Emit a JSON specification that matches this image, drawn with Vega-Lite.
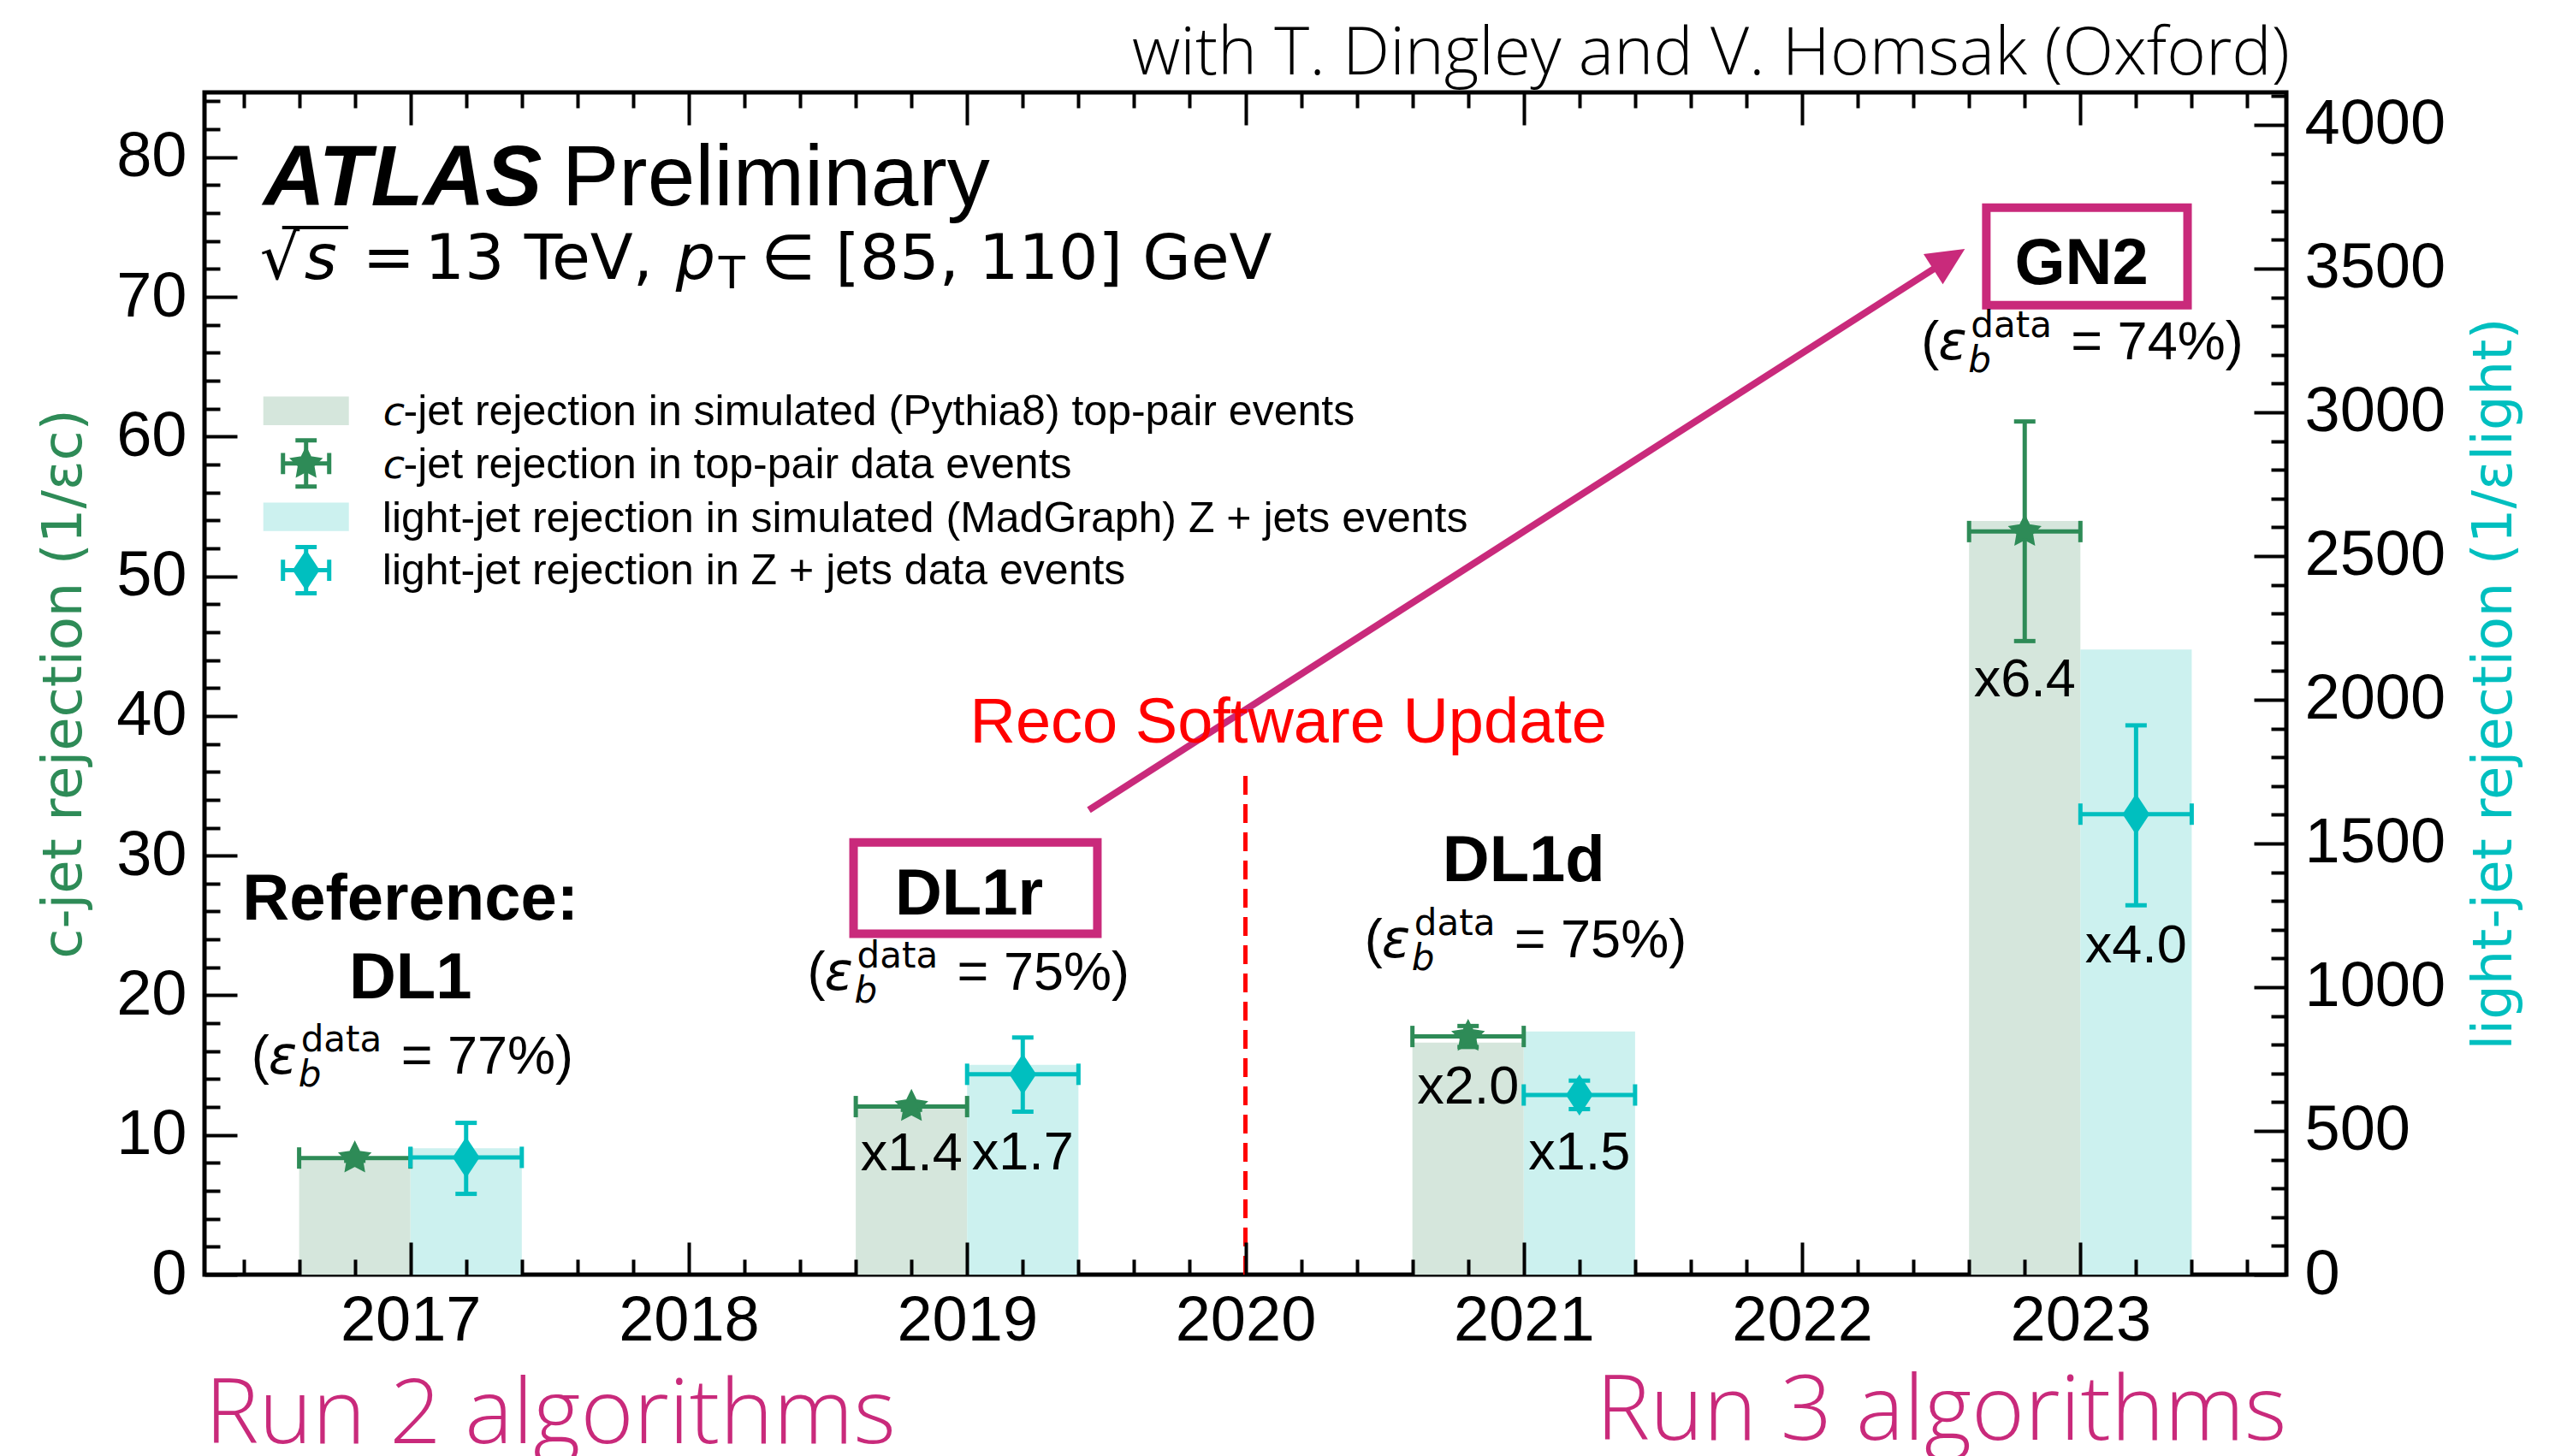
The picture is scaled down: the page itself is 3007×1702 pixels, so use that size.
{
 "$schema": "https://vega.github.io/schema/vega-lite/v6.json",
 "width": 2433,
 "height": 1382,
 "autosize": {"type": "none"},
 "padding": {"left": 239, "top": 108, "right": 335, "bottom": 212},
 "background": "white",
 "title": {"text": "with T. Dingley and V. Homsak (Oxford)", "anchor": "end", "frame": "group", "font": "Open Sans", "fontWeight": 300, "fontSize": 78, "color": "#000000", "baseline": "alphabetic", "offset": -59, "dx": 4},
 "config": {
  "view": {"stroke": "#000000", "strokeWidth": 5},
  "axis": {"labelFlush": false, "labelOverlap": false, "labelBound": false, "grid": false}
 },
 "datasets": {
  "c": [
   {"alg": "DL1", "x0": 2016.6, "xc": 2016.8, "x1": 2017.0, "sim": 8.19, "data": 8.35, "lo": 8.15, "hi": 8.55},
   {"alg": "DL1r", "x0": 2018.6, "xc": 2018.8, "x1": 2019.0, "sim": 12.2, "data": 12.03, "lo": 11.8, "hi": 12.3},
   {"alg": "DL1d", "x0": 2020.6, "xc": 2020.8, "x1": 2021.0, "sim": 16.62, "data": 17.05, "lo": 16.3, "hi": 17.8},
   {"alg": "GN2", "x0": 2022.6, "xc": 2022.8, "x1": 2023.0, "sim": 53.95, "data": 53.2, "lo": 45.36, "hi": 61.08}
  ],
  "light": [
   {"alg": "DL1", "x0": 2017.0, "xc": 2017.2, "x1": 2017.4, "sim": 440, "data": 408, "lo": 281, "hi": 528},
   {"alg": "DL1r", "x0": 2019.0, "xc": 2019.2, "x1": 2019.4, "sim": 730, "data": 697, "lo": 567, "hi": 825},
   {"alg": "DL1d", "x0": 2021.0, "xc": 2021.2, "x1": 2021.4, "sim": 846, "data": 625, "lo": 576, "hi": 675},
   {"alg": "GN2", "x0": 2023.0, "xc": 2023.2, "x1": 2023.4, "sim": 2175, "data": 1602, "lo": 1285, "hi": 1911}
  ],
  "update": [{"x": 2020, "y0": 0, "y1": 35.8}],
  "bold": [
   {"x": 2017.0, "y": 25.43, "t": "Reference:"},
   {"x": 2017.0, "y": 19.8, "t": "DL1"},
   {"x": 2019.007, "y": 25.79, "t": "DL1r"},
   {"x": 2021.0, "y": 28.19, "t": "DL1d"},
   {"x": 2023.004, "y": 70.92, "t": "GN2"}
  ],
  "ratio": [
   {"x": 2018.8, "y": 7.49, "t": "x1.4"},
   {"x": 2019.2, "y": 7.56, "t": "x1.7"},
   {"x": 2020.8, "y": 12.27, "t": "x2.0"},
   {"x": 2021.2, "y": 7.56, "t": "x1.5"},
   {"x": 2022.8, "y": 41.41, "t": "x6.4"},
   {"x": 2023.2, "y": 22.34, "t": "x4.0"}
  ],
  "eff": [
   {"x": 2017.0, "y": 14.42, "t": "= 77%)"},
   {"x": 2018.998, "y": 20.42, "t": "= 75%)"},
   {"x": 2021.0, "y": 22.75, "t": "= 75%)"},
   {"x": 2023.0, "y": 65.54, "t": "= 74%)"}
  ],
  "boxes": [
   {"x0": 2018.592, "x1": 2019.468, "y0": 24.4, "y1": 30.95},
   {"x0": 2022.662, "x1": 2023.385, "y0": 69.4, "y1": 76.39}
  ],
  "arrow": [{"x0": 2019.4375, "y0": 33.27, "x1": 2022.528, "y1": 72.71}],
  "reco": [{"x": 2019.01, "y": 38.11, "t": "Reco Software Update"}],
  "atlas": [{"x": 2016.471, "y": 76.57, "t": "ATLAS"}],
  "prelim": [{"x": 2017.544, "y": 76.57, "t": "Preliminary"}],
  "energyUp": [
   {"x": 2016.459, "y": 71.29, "t": "√"},
   {"x": 2016.828, "y": 71.29, "t": "="},
   {"x": 2017.052, "y": 71.29, "t": "13 TeV,"},
   {"x": 2018.26, "y": 71.29, "t": "∈ [85, 110] GeV"}
  ],
  "energyIt": [
   {"x": 2016.619, "y": 71.29, "t": "s"},
   {"x": 2017.953, "y": 71.29, "t": "p"}
  ],
  "energySub": [{"x": 2018.107, "y": 70.6, "t": "T"}],
  "overline": [{"x0": 2016.539, "x1": 2016.776, "y": 74.97}],
  "legSwatchC": [{"x": 2016.625, "y": 61.84}],
  "legSwatchL": [{"x": 2016.625, "y": 54.25}],
  "legDataC": [{"x": 2016.625, "y": 58.07}],
  "legDataL": [{"x": 2016.625, "y": 50.43}],
  "legC": [
   {"x": 2016.902, "y": 60.83, "t": "c"},
   {"x": 2016.902, "y": 57.03, "t": "c"}
  ],
  "legText": [
   {"x": 2016.975, "y": 60.83, "t": "-jet rejection in simulated (Pythia8) top-pair events"},
   {"x": 2016.975, "y": 57.03, "t": "-jet rejection in top-pair data events"},
   {"x": 2016.899, "y": 53.17, "t": "light-jet rejection in simulated (MadGraph)  Z + jets events"},
   {"x": 2016.899, "y": 49.44, "t": "light-jet rejection in Z + jets data events"}
  ]
 },
 "layer": [
  {
   "data": {"name": "c"},
   "mark": {"type": "rect", "color": "#d5e6dc"},
   "encoding": {
    "x": {"field": "x0", "type": "quantitative", "scale": {"domain": [2016.26, 2023.74], "nice": false, "zero": false},
     "axis": {"orient": "bottom", "values": [2017, 2018, 2019, 2020, 2021, 2022, 2023], "format": "d", "labelFont": "Liberation Sans", "labelFontSize": 74, "labelColor": "#000000", "labelPadding": 56, "tickSize": -38, "tickWidth": 4, "tickColor": "#000000", "domain": false, "grid": false, "title": "Run 2 algorithms", "titleFont": "Open Sans", "titleFontWeight": 300, "titleFontSize": 106, "titleColor": "#c92a7b", "titleAnchor": "start", "titleAlign": "left", "titleBaseline": "alphabetic", "titleY": 196, "zindex": 2}},
    "x2": {"field": "x1"},
    "y": {"field": "sim", "type": "quantitative", "scale": {"domain": [0, 84.64], "nice": false, "zero": false},
     "axis": {"orient": "left", "values": [0, 10, 20, 30, 40, 50, 60, 70, 80], "format": "d", "labelFont": "Liberation Sans", "labelFontSize": 74, "labelColor": "#000000", "labelPadding": 59, "tickSize": -38, "tickWidth": 4, "tickColor": "#000000", "domain": false, "grid": false, "title": "c-jet rejection (1/εc)", "titleFont": "DejaVu Sans", "titleFontSize": 64, "titleFontWeight": "normal", "titleColor": "#2e8b57", "titlePadding": 28, "zindex": 2}},
    "y2": {"datum": 0}
   }
  },
  {
   "data": {"name": "light"},
   "mark": {"type": "rect", "color": "#ccf1ef"},
   "encoding": {
    "x": {"field": "x0", "type": "quantitative", "scale": {"domain": [2016.26, 2023.74], "nice": false, "zero": false},
     "axis": {"orient": "bottom", "values": [2016.4, 2016.6, 2016.8, 2017.2, 2017.4, 2017.6, 2017.8, 2018.2, 2018.4, 2018.6, 2018.8, 2019.2, 2019.4, 2019.6, 2019.8, 2020.2, 2020.4, 2020.6, 2020.8, 2021.2, 2021.4, 2021.6, 2021.8, 2022.2, 2022.4, 2022.6, 2022.8, 2023.2, 2023.4, 2023.6], "labels": false, "domain": false, "grid": false, "tickSize": -18, "tickWidth": 4, "tickColor": "#000000", "title": "Run 3 algorithms", "titleFont": "Open Sans", "titleFontWeight": 300, "titleFontSize": 106, "titleColor": "#c92a7b", "titleAnchor": "end", "titleAlign": "right", "titleBaseline": "alphabetic", "titleY": 192, "zindex": 2}},
    "x2": {"field": "x1"},
    "y": {"field": "sim", "type": "quantitative", "scale": {"domain": [0, 4113], "nice": false, "zero": false},
     "axis": {"orient": "right", "values": [0, 500, 1000, 1500, 2000, 2500, 3000, 3500, 4000], "format": "d", "labelFont": "Liberation Sans", "labelFontSize": 74, "labelColor": "#000000", "labelPadding": 59, "tickSize": -38, "tickWidth": 4, "tickColor": "#000000", "domain": false, "grid": false, "title": "light-jet rejection (1/εlight)", "titleFont": "DejaVu Sans", "titleFontSize": 64, "titleFontWeight": "normal", "titleColor": "#00bfbf", "titleAngle": 270, "titleBaseline": "top", "titlePadding": 26, "zindex": 2}},
    "y2": {"datum": 0}
   }
  },
  {
   "data": {"name": "update"},
   "mark": {"type": "rule", "color": "#ff0000", "strokeWidth": 5, "strokeDash": [22, 11]},
   "encoding": {
    "x": {"field": "x", "type": "quantitative", "scale": {"domain": [2016.26, 2023.74], "nice": false, "zero": false},
     "axis": {"orient": "top", "values": [2017, 2018, 2019, 2020, 2021, 2022, 2023], "labels": false, "domain": false, "grid": false, "tickSize": -38, "tickWidth": 4, "tickColor": "#000000", "title": null, "zindex": 2}},
    "y": {"field": "y0", "type": "quantitative", "scale": {"domain": [0, 84.64], "nice": false, "zero": false},
     "axis": {"orient": "left", "values": [2, 4, 6, 8, 12, 14, 16, 18, 22, 24, 26, 28, 32, 34, 36, 38, 42, 44, 46, 48, 52, 54, 56, 58, 62, 64, 66, 68, 72, 74, 76, 78, 82, 84], "labels": false, "domain": false, "grid": false, "tickSize": -18, "tickWidth": 4, "tickColor": "#000000", "title": null, "zindex": 2}},
    "y2": {"field": "y1"}
   }
  },
  {
   "data": {"name": "c"},
   "mark": {"type": "rule", "color": "#2e8b57", "strokeWidth": 5},
   "encoding": {
    "x": {"field": "x0", "type": "quantitative", "scale": {"domain": [2016.26, 2023.74], "nice": false, "zero": false}, "axis": null},
    "x2": {"field": "x1"},
    "y": {"field": "data", "type": "quantitative", "scale": {"domain": [0, 84.64], "nice": false, "zero": false}, "axis": null}
   }
  },
  {
   "data": {"name": "c"},
   "mark": {"type": "rule", "color": "#2e8b57", "strokeWidth": 5},
   "encoding": {
    "x": {"field": "xc", "type": "quantitative", "scale": {"domain": [2016.26, 2023.74], "nice": false, "zero": false}, "axis": null},
    "y": {"field": "lo", "type": "quantitative", "scale": {"domain": [0, 84.64], "nice": false, "zero": false}, "axis": null},
    "y2": {"field": "hi"}
   }
  },
  {
   "data": {"name": "c"},
   "transform": [{"fold": ["x0", "x1"], "as": ["k", "v"]}],
   "mark": {"type": "point", "shape": "M0,-1V1", "size": 625, "filled": false, "color": "#2e8b57", "strokeWidth": 5, "opacity": 1},
   "encoding": {
    "x": {"field": "v", "type": "quantitative", "scale": {"domain": [2016.26, 2023.74], "nice": false, "zero": false}, "axis": null},
    "y": {"field": "data", "type": "quantitative", "scale": {"domain": [0, 84.64], "nice": false, "zero": false}, "axis": null}
   }
  },
  {
   "data": {"name": "c"},
   "transform": [{"fold": ["lo", "hi"], "as": ["k", "v"]}],
   "mark": {"type": "point", "shape": "M-1,0H1", "size": 625, "filled": false, "color": "#2e8b57", "strokeWidth": 5, "opacity": 1},
   "encoding": {
    "x": {"field": "xc", "type": "quantitative", "scale": {"domain": [2016.26, 2023.74], "nice": false, "zero": false}, "axis": null},
    "y": {"field": "v", "type": "quantitative", "scale": {"domain": [0, 84.64], "nice": false, "zero": false}, "axis": null}
   }
  },
  {
   "data": {"name": "c"},
   "mark": {"type": "point", "shape": "M0,-1L0.294,-0.405L0.951,-0.309L0.476,0.155L0.588,0.809L0,0.5L-0.588,0.809L-0.476,0.155L-0.951,-0.309L-0.294,-0.405Z", "size": 1200, "filled": true, "color": "#2e8b57", "stroke": "#2e8b57", "strokeWidth": 3, "opacity": 1},
   "encoding": {
    "x": {"field": "xc", "type": "quantitative", "scale": {"domain": [2016.26, 2023.74], "nice": false, "zero": false}, "axis": null},
    "y": {"field": "data", "type": "quantitative", "scale": {"domain": [0, 84.64], "nice": false, "zero": false}, "axis": null}
   }
  },
  {
   "data": {"name": "light"},
   "mark": {"type": "rule", "color": "#00bfbf", "strokeWidth": 5},
   "encoding": {
    "x": {"field": "x0", "type": "quantitative", "scale": {"domain": [2016.26, 2023.74], "nice": false, "zero": false}, "axis": null},
    "x2": {"field": "x1"},
    "y": {"field": "data", "type": "quantitative", "scale": {"domain": [0, 4113], "nice": false, "zero": false}, "axis": null}
   }
  },
  {
   "data": {"name": "light"},
   "mark": {"type": "rule", "color": "#00bfbf", "strokeWidth": 5},
   "encoding": {
    "x": {"field": "xc", "type": "quantitative", "scale": {"domain": [2016.26, 2023.74], "nice": false, "zero": false}, "axis": null},
    "y": {"field": "lo", "type": "quantitative", "scale": {"domain": [0, 4113], "nice": false, "zero": false}, "axis": null},
    "y2": {"field": "hi"}
   }
  },
  {
   "data": {"name": "light"},
   "transform": [{"fold": ["x0", "x1"], "as": ["k", "v"]}],
   "mark": {"type": "point", "shape": "M0,-1V1", "size": 625, "filled": false, "color": "#00bfbf", "strokeWidth": 5, "opacity": 1},
   "encoding": {
    "x": {"field": "v", "type": "quantitative", "scale": {"domain": [2016.26, 2023.74], "nice": false, "zero": false}, "axis": null},
    "y": {"field": "data", "type": "quantitative", "scale": {"domain": [0, 4113], "nice": false, "zero": false}, "axis": null}
   }
  },
  {
   "data": {"name": "light"},
   "transform": [{"fold": ["lo", "hi"], "as": ["k", "v"]}],
   "mark": {"type": "point", "shape": "M-1,0H1", "size": 625, "filled": false, "color": "#00bfbf", "strokeWidth": 5, "opacity": 1},
   "encoding": {
    "x": {"field": "xc", "type": "quantitative", "scale": {"domain": [2016.26, 2023.74], "nice": false, "zero": false}, "axis": null},
    "y": {"field": "v", "type": "quantitative", "scale": {"domain": [0, 4113], "nice": false, "zero": false}, "axis": null}
   }
  },
  {
   "data": {"name": "light"},
   "mark": {"type": "point", "shape": "M0,-1L0.66,0L0,1L-0.66,0Z", "size": 2304, "filled": true, "color": "#00bfbf", "opacity": 1},
   "encoding": {
    "x": {"field": "xc", "type": "quantitative", "scale": {"domain": [2016.26, 2023.74], "nice": false, "zero": false},
     "axis": {"orient": "top", "values": [2016.4, 2016.6, 2016.8, 2017.2, 2017.4, 2017.6, 2017.8, 2018.2, 2018.4, 2018.6, 2018.8, 2019.2, 2019.4, 2019.6, 2019.8, 2020.2, 2020.4, 2020.6, 2020.8, 2021.2, 2021.4, 2021.6, 2021.8, 2022.2, 2022.4, 2022.6, 2022.8, 2023.2, 2023.4, 2023.6], "labels": false, "domain": false, "grid": false, "tickSize": -18, "tickWidth": 4, "tickColor": "#000000", "title": null, "zindex": 2}},
    "y": {"field": "data", "type": "quantitative", "scale": {"domain": [0, 4113], "nice": false, "zero": false},
     "axis": {"orient": "right", "values": [100, 200, 300, 400, 600, 700, 800, 900, 1100, 1200, 1300, 1400, 1600, 1700, 1800, 1900, 2100, 2200, 2300, 2400, 2600, 2700, 2800, 2900, 3100, 3200, 3300, 3400, 3600, 3700, 3800, 3900, 4100], "labels": false, "domain": false, "grid": false, "tickSize": -18, "tickWidth": 4, "tickColor": "#000000", "title": null, "zindex": 2}}
   }
  },
  {
   "data": {"name": "boxes"},
   "mark": {"type": "rect", "fill": "#ffffff", "fillOpacity": 0, "stroke": "#c92a7b", "strokeWidth": 10},
   "encoding": {
    "x": {"field": "x0", "type": "quantitative", "scale": {"domain": [2016.26, 2023.74], "nice": false, "zero": false}, "axis": null},
    "x2": {"field": "x1"},
    "y": {"field": "y0", "type": "quantitative", "scale": {"domain": [0, 84.64], "nice": false, "zero": false}, "axis": null},
    "y2": {"field": "y1"}
   }
  },
  {
   "data": {"name": "arrow"},
   "mark": {"type": "rule", "color": "#c92a7b", "strokeWidth": 8},
   "encoding": {
    "x": {"field": "x0", "type": "quantitative", "scale": {"domain": [2016.26, 2023.74], "nice": false, "zero": false}, "axis": null},
    "x2": {"field": "x1"},
    "y": {"field": "y0", "type": "quantitative", "scale": {"domain": [0, 84.64], "nice": false, "zero": false}, "axis": null},
    "y2": {"field": "y1"}
   }
  },
  {
   "data": {"name": "arrow"},
   "mark": {"type": "point", "shape": "M0,-1L0.95,1L-0.95,1Z", "size": 1936, "angle": 57.4, "filled": true, "color": "#c92a7b", "opacity": 1},
   "encoding": {
    "x": {"field": "x1", "type": "quantitative", "scale": {"domain": [2016.26, 2023.74], "nice": false, "zero": false}, "axis": null},
    "y": {"field": "y1", "type": "quantitative", "scale": {"domain": [0, 84.64], "nice": false, "zero": false}, "axis": null}
   }
  },
  {
   "data": {"name": "reco"},
   "mark": {"type": "text", "font": "Liberation Sans", "fontSize": 74, "color": "#ff0000", "align": "left", "baseline": "alphabetic"},
   "encoding": {
    "x": {"field": "x", "type": "quantitative", "scale": {"domain": [2016.26, 2023.74], "nice": false, "zero": false}, "axis": null},
    "y": {"field": "y", "type": "quantitative", "scale": {"domain": [0, 84.64], "nice": false, "zero": false}, "axis": null},
    "text": {"field": "t"}
   }
  },
  {
   "data": {"name": "bold"},
   "mark": {"type": "text", "font": "Liberation Sans", "fontSize": 76, "fontWeight": "bold", "color": "#000000", "align": "center", "baseline": "alphabetic"},
   "encoding": {
    "x": {"field": "x", "type": "quantitative", "scale": {"domain": [2016.26, 2023.74], "nice": false, "zero": false}, "axis": null},
    "y": {"field": "y", "type": "quantitative", "scale": {"domain": [0, 84.64], "nice": false, "zero": false}, "axis": null},
    "text": {"field": "t"}
   }
  },
  {
   "data": {"name": "ratio"},
   "mark": {"type": "text", "font": "Liberation Sans", "fontSize": 63, "color": "#000000", "align": "center", "baseline": "alphabetic"},
   "encoding": {
    "x": {"field": "x", "type": "quantitative", "scale": {"domain": [2016.26, 2023.74], "nice": false, "zero": false}, "axis": null},
    "y": {"field": "y", "type": "quantitative", "scale": {"domain": [0, 84.64], "nice": false, "zero": false}, "axis": null},
    "text": {"field": "t"}
   }
  },
  {
   "data": {"name": "eff"},
   "mark": {"type": "text", "font": "Liberation Sans", "fontSize": 63, "color": "#000000", "align": "left", "baseline": "alphabetic", "dx": -11},
   "encoding": {
    "x": {"field": "x", "type": "quantitative", "scale": {"domain": [2016.26, 2023.74], "nice": false, "zero": false}, "axis": null},
    "y": {"field": "y", "type": "quantitative", "scale": {"domain": [0, 84.64], "nice": false, "zero": false}, "axis": null},
    "text": {"field": "t"}
   }
  },
  {
   "data": {"name": "eff"},
   "mark": {"type": "text", "font": "Liberation Sans", "fontSize": 63, "color": "#000000", "align": "left", "baseline": "alphabetic", "dx": -186, "text": "("},
   "encoding": {
    "x": {"field": "x", "type": "quantitative", "scale": {"domain": [2016.26, 2023.74], "nice": false, "zero": false}, "axis": null},
    "y": {"field": "y", "type": "quantitative", "scale": {"domain": [0, 84.64], "nice": false, "zero": false}, "axis": null}
   }
  },
  {
   "data": {"name": "eff"},
   "mark": {"type": "text", "font": "DejaVu Sans", "fontStyle": "italic", "fontSize": 62, "color": "#000000", "align": "left", "baseline": "alphabetic", "dx": -166, "text": "ε"},
   "encoding": {
    "x": {"field": "x", "type": "quantitative", "scale": {"domain": [2016.26, 2023.74], "nice": false, "zero": false}, "axis": null},
    "y": {"field": "y", "type": "quantitative", "scale": {"domain": [0, 84.64], "nice": false, "zero": false}, "axis": null}
   }
  },
  {
   "data": {"name": "eff"},
   "mark": {"type": "text", "font": "DejaVu Sans", "fontSize": 42, "color": "#000000", "align": "left", "baseline": "alphabetic", "dx": -128, "dy": -26, "text": "data"},
   "encoding": {
    "x": {"field": "x", "type": "quantitative", "scale": {"domain": [2016.26, 2023.74], "nice": false, "zero": false}, "axis": null},
    "y": {"field": "y", "type": "quantitative", "scale": {"domain": [0, 84.64], "nice": false, "zero": false}, "axis": null}
   }
  },
  {
   "data": {"name": "eff"},
   "mark": {"type": "text", "font": "DejaVu Sans", "fontStyle": "italic", "fontSize": 42, "color": "#000000", "align": "left", "baseline": "alphabetic", "dx": -131, "dy": 15, "text": "b"},
   "encoding": {
    "x": {"field": "x", "type": "quantitative", "scale": {"domain": [2016.26, 2023.74], "nice": false, "zero": false}, "axis": null},
    "y": {"field": "y", "type": "quantitative", "scale": {"domain": [0, 84.64], "nice": false, "zero": false}, "axis": null}
   }
  },
  {
   "data": {"name": "atlas"},
   "mark": {"type": "text", "font": "Liberation Sans", "fontSize": 100, "fontWeight": "bold", "fontStyle": "italic", "color": "#000000", "align": "left", "baseline": "alphabetic"},
   "encoding": {
    "x": {"field": "x", "type": "quantitative", "scale": {"domain": [2016.26, 2023.74], "nice": false, "zero": false}, "axis": null},
    "y": {"field": "y", "type": "quantitative", "scale": {"domain": [0, 84.64], "nice": false, "zero": false}, "axis": null},
    "text": {"field": "t"}
   }
  },
  {
   "data": {"name": "prelim"},
   "mark": {"type": "text", "font": "Liberation Sans", "fontSize": 100, "color": "#000000", "align": "left", "baseline": "alphabetic"},
   "encoding": {
    "x": {"field": "x", "type": "quantitative", "scale": {"domain": [2016.26, 2023.74], "nice": false, "zero": false}, "axis": null},
    "y": {"field": "y", "type": "quantitative", "scale": {"domain": [0, 84.64], "nice": false, "zero": false}, "axis": null},
    "text": {"field": "t"}
   }
  },
  {
   "data": {"name": "energyUp"},
   "mark": {"type": "text", "font": "DejaVu Sans", "fontSize": 73, "color": "#000000", "align": "left", "baseline": "alphabetic"},
   "encoding": {
    "x": {"field": "x", "type": "quantitative", "scale": {"domain": [2016.26, 2023.74], "nice": false, "zero": false}, "axis": null},
    "y": {"field": "y", "type": "quantitative", "scale": {"domain": [0, 84.64], "nice": false, "zero": false}, "axis": null},
    "text": {"field": "t"}
   }
  },
  {
   "data": {"name": "energyIt"},
   "mark": {"type": "text", "font": "DejaVu Sans", "fontStyle": "italic", "fontSize": 73, "color": "#000000", "align": "left", "baseline": "alphabetic"},
   "encoding": {
    "x": {"field": "x", "type": "quantitative", "scale": {"domain": [2016.26, 2023.74], "nice": false, "zero": false}, "axis": null},
    "y": {"field": "y", "type": "quantitative", "scale": {"domain": [0, 84.64], "nice": false, "zero": false}, "axis": null},
    "text": {"field": "t"}
   }
  },
  {
   "data": {"name": "energySub"},
   "mark": {"type": "text", "font": "DejaVu Sans", "fontSize": 51, "color": "#000000", "align": "left", "baseline": "alphabetic"},
   "encoding": {
    "x": {"field": "x", "type": "quantitative", "scale": {"domain": [2016.26, 2023.74], "nice": false, "zero": false}, "axis": null},
    "y": {"field": "y", "type": "quantitative", "scale": {"domain": [0, 84.64], "nice": false, "zero": false}, "axis": null},
    "text": {"field": "t"}
   }
  },
  {
   "data": {"name": "overline"},
   "mark": {"type": "rule", "color": "#000000", "strokeWidth": 4},
   "encoding": {
    "x": {"field": "x0", "type": "quantitative", "scale": {"domain": [2016.26, 2023.74], "nice": false, "zero": false}, "axis": null},
    "x2": {"field": "x1"},
    "y": {"field": "y", "type": "quantitative", "scale": {"domain": [0, 84.64], "nice": false, "zero": false}, "axis": null}
   }
  },
  {
   "data": {"name": "legSwatchC"},
   "mark": {"type": "point", "shape": "M-1.5,-0.5H1.5V0.5H-1.5Z", "size": 4444, "filled": true, "color": "#d5e6dc", "opacity": 1},
   "encoding": {
    "x": {"field": "x", "type": "quantitative", "scale": {"domain": [2016.26, 2023.74], "nice": false, "zero": false}, "axis": null},
    "y": {"field": "y", "type": "quantitative", "scale": {"domain": [0, 84.64], "nice": false, "zero": false}, "axis": null}
   }
  },
  {
   "data": {"name": "legSwatchL"},
   "mark": {"type": "point", "shape": "M-1.5,-0.5H1.5V0.5H-1.5Z", "size": 4444, "filled": true, "color": "#ccf1ef", "opacity": 1},
   "encoding": {
    "x": {"field": "x", "type": "quantitative", "scale": {"domain": [2016.26, 2023.74], "nice": false, "zero": false}, "axis": null},
    "y": {"field": "y", "type": "quantitative", "scale": {"domain": [0, 84.64], "nice": false, "zero": false}, "axis": null}
   }
  },
  {
   "data": {"name": "legDataC"},
   "mark": {"type": "point", "shape": "M0,-1V1M-1,0H1M-0.46,-1H0.46M-0.46,1H0.46M-1,-0.46V0.46M1,-0.46V0.46", "size": 2916, "filled": false, "color": "#2e8b57", "strokeWidth": 5, "opacity": 1},
   "encoding": {
    "x": {"field": "x", "type": "quantitative", "scale": {"domain": [2016.26, 2023.74], "nice": false, "zero": false}, "axis": null},
    "y": {"field": "y", "type": "quantitative", "scale": {"domain": [0, 84.64], "nice": false, "zero": false}, "axis": null}
   }
  },
  {
   "data": {"name": "legDataC"},
   "mark": {"type": "point", "shape": "M0,-1L0.294,-0.405L0.951,-0.309L0.476,0.155L0.588,0.809L0,0.5L-0.588,0.809L-0.476,0.155L-0.951,-0.309L-0.294,-0.405Z", "size": 1200, "filled": true, "color": "#2e8b57", "stroke": "#2e8b57", "strokeWidth": 3, "opacity": 1},
   "encoding": {
    "x": {"field": "x", "type": "quantitative", "scale": {"domain": [2016.26, 2023.74], "nice": false, "zero": false}, "axis": null},
    "y": {"field": "y", "type": "quantitative", "scale": {"domain": [0, 84.64], "nice": false, "zero": false}, "axis": null}
   }
  },
  {
   "data": {"name": "legDataL"},
   "mark": {"type": "point", "shape": "M0,-1V1M-1,0H1M-0.46,-1H0.46M-0.46,1H0.46M-1,-0.46V0.46M1,-0.46V0.46", "size": 2916, "filled": false, "color": "#00bfbf", "strokeWidth": 5, "opacity": 1},
   "encoding": {
    "x": {"field": "x", "type": "quantitative", "scale": {"domain": [2016.26, 2023.74], "nice": false, "zero": false}, "axis": null},
    "y": {"field": "y", "type": "quantitative", "scale": {"domain": [0, 84.64], "nice": false, "zero": false}, "axis": null}
   }
  },
  {
   "data": {"name": "legDataL"},
   "mark": {"type": "point", "shape": "M0,-1L0.66,0L0,1L-0.66,0Z", "size": 2304, "filled": true, "color": "#00bfbf", "opacity": 1},
   "encoding": {
    "x": {"field": "x", "type": "quantitative", "scale": {"domain": [2016.26, 2023.74], "nice": false, "zero": false}, "axis": null},
    "y": {"field": "y", "type": "quantitative", "scale": {"domain": [0, 84.64], "nice": false, "zero": false}, "axis": null}
   }
  },
  {
   "data": {"name": "legC"},
   "mark": {"type": "text", "font": "DejaVu Sans", "fontStyle": "italic", "fontSize": 46, "color": "#000000", "align": "left", "baseline": "alphabetic"},
   "encoding": {
    "x": {"field": "x", "type": "quantitative", "scale": {"domain": [2016.26, 2023.74], "nice": false, "zero": false}, "axis": null},
    "y": {"field": "y", "type": "quantitative", "scale": {"domain": [0, 84.64], "nice": false, "zero": false}, "axis": null},
    "text": {"field": "t"}
   }
  },
  {
   "data": {"name": "legText"},
   "mark": {"type": "text", "font": "Liberation Sans", "fontSize": 50, "color": "#000000", "align": "left", "baseline": "alphabetic"},
   "encoding": {
    "x": {"field": "x", "type": "quantitative", "scale": {"domain": [2016.26, 2023.74], "nice": false, "zero": false}, "axis": null},
    "y": {"field": "y", "type": "quantitative", "scale": {"domain": [0, 84.64], "nice": false, "zero": false}, "axis": null},
    "text": {"field": "t"}
   }
  }
 ],
 "resolve": {"scale": {"y": "independent"}, "axis": {"x": "independent", "y": "independent"}}
}
